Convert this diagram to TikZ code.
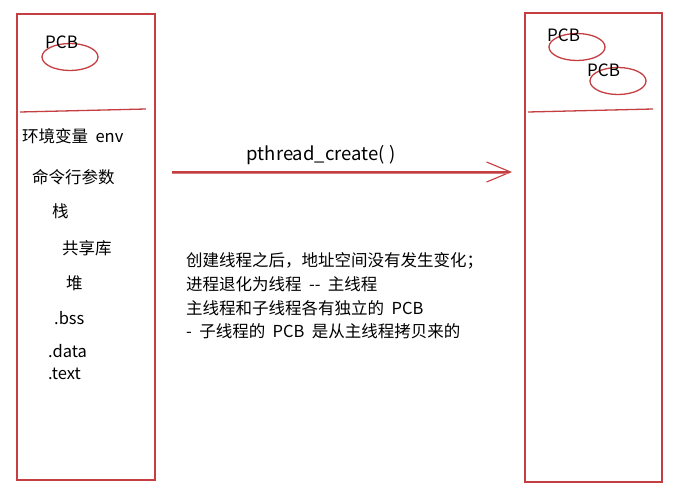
\documentclass[tikz,border=0pt]{standalone}
\usepackage{fontspec}
\setmainfont{Noto Sans CJK SC}
\usetikzlibrary{arrows.meta,shapes.geometric}
\definecolor{sketchred}{RGB}{196,62,66}
\begin{document}
\begin{tikzpicture}[x=1pt,y=-1pt,
  redline/.style={draw=sketchred, line width=1.3pt},
  panel/.style={redline, rectangle, inner sep=0pt},
  pcbring/.style={redline, ellipse, minimum width=56pt, minimum height=27pt, inner sep=0pt},
  lbl/.style={anchor=west, inner sep=0pt, font=\fontsize{16.5}{19}\selectfont},
  pcbtxt/.style={anchor=west, inner sep=0pt, font=\fontsize{17}{19}\selectfont}]
\useasboundingbox (0,0) rectangle (686,500);
\fill[white] (0,0) rectangle (686,500);

% panels
\node[panel, minimum width=138pt, minimum height=466pt] (leftpanel) at (86,247) {};
\node[panel, minimum width=137pt, minimum height=469pt] (rightpanel) at (593.5,247.5) {};

% dividers
\coordinate (ldivA) at (20,112);
\coordinate (ldivB) at (146,109);
\draw[redline] (ldivA) -- (ldivB);
\coordinate (rdivA) at (528,112);
\coordinate (rdivB) at (653,109);
\draw[redline] (rdivA) -- (rdivB);

% PCB left
\node[pcbring] (lring) at (70,57) {};
\node[pcbtxt] (lpcb) at (45,42) {PCB};

% PCB right
\node[pcbring] (rring1) at (577,47) {};
\node[pcbtxt] (rpcb1) at (547,35) {PCB};
\node[pcbring] (rring2) at (618,81) {};
\node[pcbtxt] (rpcb2) at (587,70) {PCB};

% memory layout labels
\node[lbl] (env) at (22,136) {环境变量\ \ env};
\node[lbl] (args) at (32,177) {命令行参数};
\node[lbl] (stack) at (52,211) {栈};
\node[lbl] (shlib) at (62,248) {共享库};
\node[lbl] (heap) at (66,283) {堆};
\node[lbl] (bss) at (54,318) {.bss};
\node[lbl] (data) at (48,351) {.data};
\node[lbl] (text) at (48,374) {.text};

% arrow
\coordinate (arrstart) at (172,172);
\coordinate (arrend) at (512,172);
\draw[redline, line width=1.1pt, -{Straight Barb[length=24pt,width=20pt,line width=1.1pt]}] (arrstart) -- (arrend);
\draw[sketchred!70, line width=0.6pt] ([yshift=-1.6pt]arrstart) -- ([yshift=-1.6pt,xshift=-3pt]arrend);
\node[lbl, anchor=center, font=\fontsize{18.5}{20}\selectfont] (call) at (321,155) {pthread\_create( )};

% explanation
\node[lbl] (l1) at (186,261) {创建线程之后，地址空间没有发生变化；};
\node[lbl] (l2) at (186,284) {进程退化为线程\ \ -{}-\ \ 主线程};
\node[lbl] (l3) at (186,308) {主线程和子线程各有独立的\ \ PCB};
\node[lbl] (l4) at (186,331) {-\ \ 子线程的\ \ PCB\ \ 是从主线程拷贝来的};
\end{tikzpicture}
\end{document}
